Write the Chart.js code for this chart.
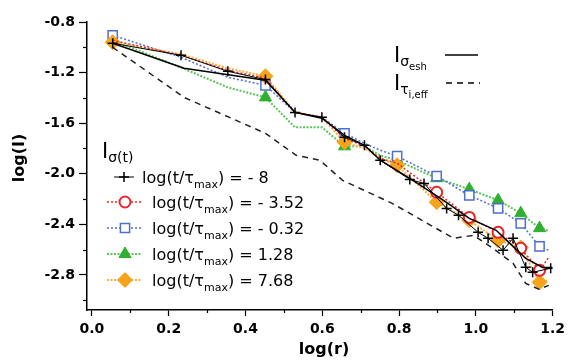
<!DOCTYPE html>
<html>
<head>
<meta charset="utf-8">
<script src="https://cdn.jsdelivr.net/npm/chart.js@4.4.1/dist/chart.umd.min.js"></script>
<style>
html, body { margin: 0; padding: 0; background: #fff; }
</style>
</head>
<body>
<canvas id="graph" width="570" height="364"></canvas>
<script>
// r grid shared by the four coloured series
var logR = [0.054, 0.232, 0.354, 0.452, 0.529, 0.599, 0.658, 0.710, 0.751, 0.795, 0.898, 0.983, 1.058, 1.117, 1.166, 1.190]
var redVals = [-0.945, -1.063, -1.182, -1.245, -1.515, -1.553, -1.719, -1.783, -1.878, -1.917, -2.146, -2.345, -2.463, -2.589, -2.763, -2.660]
var blueVals = [-0.905, -1.079, -1.237, -1.301, -1.515, -1.553, -1.680, -1.759, -1.814, -1.861, -2.019, -2.170, -2.273, -2.392, -2.574, -2.605]
var greenVals = [-0.945, -1.160, -1.317, -1.396, -1.633, -1.633, -1.783, -1.783, -1.855, -1.894, -2.035, -2.122, -2.209, -2.312, -2.430, -2.453]
var orangeVals = [-0.960, -1.055, -1.166, -1.229, -1.515, -1.553, -1.751, -1.799, -1.878, -1.933, -2.225, -2.368, -2.526, -2.582, -2.858, -2.840]
// which grid points carry a symbol (red ones are hidden under the others before r = 0.9)
var marked = [1, 0, 0, 1, 0, 0, 1, 0, 0, 1, 1, 1, 1, 1, 1, 0]
var redMarked = [0, 0, 0, 0, 0, 0, 0, 0, 0, 0, 1, 1, 1, 1, 1, 0]

// log(t/tau_max) = -8 series, own r values
var crossR = [0.054, 0.232, 0.354, 0.452, 0.529, 0.599, 0.658, 0.710, 0.751, 0.828, 0.865, 0.924, 0.955, 1.006, 1.032, 1.071, 1.097, 1.130, 1.148, 1.195]
var crossVals = [-0.968, -1.063, -1.190, -1.255, -1.515, -1.553, -1.712, -1.775, -1.893, -2.045, -2.076, -2.274, -2.328, -2.463, -2.510, -2.605, -2.510, -2.739, -2.779, -2.747]

// reference curves I_sigma,esh (solid) and I_tau,eff (dashed)
var eshR = [0.054, 0.240, 0.452, 0.529, 0.599, 0.658, 0.710, 0.751, 0.828, 0.916, 0.983, 1.053, 1.086, 1.130, 1.174, 1.200]
var eshVals = [-0.968, -1.166, -1.261, -1.514, -1.561, -1.696, -1.775, -1.893, -2.036, -2.211, -2.353, -2.447, -2.542, -2.669, -2.740, -2.740]
var effR = [0.054, 0.240, 0.452, 0.532, 0.594, 0.653, 0.782, 0.846, 0.942, 0.994, 1.045, 1.097, 1.130, 1.164, 1.190]
var effVals = [-1.000, -1.396, -1.680, -1.854, -1.894, -2.052, -2.234, -2.344, -2.510, -2.487, -2.590, -2.708, -2.866, -2.913, -2.882]

var legendLabels = ["- 8", "- 3.52", "- 0.32", "1.28", "7.68"]

var FONT = "DejaVu Sans"

function pairs(xs, ys) {
	var out = []
	for (var i = 0; i < xs.length; i++) out.push({x: xs[i], y: ys[i]})
	return out
}
function radii(r, mask) {
	return (mask || marked).map(function(m) { return m ? r : 0 })
}

var series = [
	{data: pairs(crossR, crossVals), order: 1, borderColor: "#000", borderWidth: 1, pointStyle: "cross",
		pointRadius: 5, pointBorderWidth: 1.5, pointBorderColor: "#000", pointBackgroundColor: "#000"},
	{data: pairs(logR, redVals), order: 1.5, borderColor: "#e8262b", borderWidth: 1.5, borderDash: [2, 2], pointStyle: "circle",
		pointRadius: radii(5.5, redMarked), pointBorderWidth: 2, pointBorderColor: "#e8262b", pointBackgroundColor: "#fff"},
	{data: pairs(logR, blueVals), order: 3, borderColor: "#4f6fd0", borderWidth: 1.5, borderDash: [2, 2], pointStyle: "rect",
		pointRadius: radii(6.5), pointBorderWidth: 1.5, pointBorderColor: "#4f6fd0", pointBackgroundColor: "#fff"},
	{data: pairs(logR, greenVals), order: 4, borderColor: "#5cc45c", borderWidth: 2, borderDash: [2, 1.5], pointStyle: "triangle",
		pointRadius: radii(7), pointBorderWidth: 1, pointBorderColor: "#2fb02f", pointBackgroundColor: "#2fb02f"},
	{data: pairs(logR, orangeVals), order: 2, borderColor: "#f7b040", borderWidth: 2, borderDash: [2, 1.5], pointStyle: "rectRot",
		pointRadius: radii(7.5), pointBorderWidth: 1, pointBorderColor: "#f6a41c", pointBackgroundColor: "#f6a41c"}
]

var datasets = [
	{data: pairs(eshR, eshVals), order: 0, borderColor: "#000", borderWidth: 1.5, pointRadius: 0},
	{data: pairs(effR, effVals), order: 0, borderColor: "#222", borderWidth: 1.5, borderDash: [6, 5], pointRadius: 0}
].concat(series)

// draws text runs with subscripts, left to right
function runs(ctx, x, y, parts, bold) {
	ctx.textAlign = "left"
	ctx.textBaseline = "alphabetic"
	for (var i = 0; i < parts.length; i++) {
		var p = parts[i]
		ctx.font = (bold ? "bold " : "") + p[1] + "px '" + FONT + "'"
		ctx.fillText(p[0], x, y + (p[2] || 0))
		x += ctx.measureText(p[0]).width
	}
}

var decorations = {
	id: "decorations",
	afterDraw: function(chart) {
		var ctx = chart.ctx
		var xs = chart.scales.x, ys = chart.scales.y
		var area = chart.chartArea
		ctx.save()
		ctx.strokeStyle = "#000"
		ctx.lineWidth = 1.2
		// minor ticks
		for (var v = -3.0; v < -0.85; v += 0.4) {
			var py = Math.round(ys.getPixelForValue(v)) + 0.5
			ctx.beginPath(); ctx.moveTo(area.left - 4, py); ctx.lineTo(area.left, py); ctx.stroke()
		}
		for (var u = 0.1; u < 1.2; u += 0.2) {
			var px = Math.round(xs.getPixelForValue(u)) + 0.5
			ctx.beginPath(); ctx.moveTo(px, area.bottom); ctx.lineTo(px, area.bottom + 3); ctx.stroke()
		}

		ctx.fillStyle = "#000"
		// axis titles
		ctx.font = "bold 16px '" + FONT + "'"
		ctx.textAlign = "center"
		ctx.textBaseline = "middle"
		ctx.fillText("log(r)", 324, 350)
		ctx.save()
		ctx.translate(20, 158)
		ctx.rotate(-Math.PI / 2)
		ctx.fillText("log(I)", 0, 0)
		ctx.restore()

		// reference curve legend, top right
		runs(ctx, 394, 62, [["I", 21], ["σ", 14, 4], ["esh", 10, 8]])
		runs(ctx, 394, 90, [["I", 21], ["τ", 14, 4], ["i,eff", 10, 8]])
		ctx.lineWidth = 1.5
		ctx.setLineDash([])
		ctx.beginPath(); ctx.moveTo(445, 55); ctx.lineTo(478, 55); ctx.stroke()
		ctx.setLineDash([6, 5])
		ctx.beginPath(); ctx.moveTo(446, 83); ctx.lineTo(480, 83); ctx.stroke()
		ctx.setLineDash([])

		// series legend, left
		runs(ctx, 102, 158, [["I", 21], ["σ(t)", 14, 4]])
		var rows = [177, 202, 228, 254, 280]
		for (var i = 0; i < series.length; i++) {
			var ds = series[i], y = rows[i]
			var x1 = i === 0 ? 114 : 107, x2 = i === 0 ? 134 : 141
			var mx = i === 0 ? 124 : 125
			ctx.strokeStyle = ds.borderColor
			ctx.lineWidth = ds.borderWidth
			ctx.setLineDash(ds.borderDash || [])
			ctx.beginPath(); ctx.moveTo(x1, y); ctx.lineTo(x2, y); ctx.stroke()
			ctx.setLineDash([])
			ctx.fillStyle = ds.pointBackgroundColor
			ctx.strokeStyle = ds.pointBorderColor
			ctx.lineWidth = ds.pointBorderWidth
			var r = Array.isArray(ds.pointRadius) ? Math.max.apply(null, ds.pointRadius) : ds.pointRadius
			Chart.helpers.drawPoint(ctx, {pointStyle: ds.pointStyle, radius: r, rotation: 0, borderWidth: ds.pointBorderWidth}, mx, y)
			ctx.fillStyle = "#000"
			runs(ctx, i === 0 ? 142 : 152, y + 6, [["log(t/τ", 16], ["max", 11, 5], [") = " + legendLabels[i], 16]])
		}
		ctx.restore()
	}
}

var axisFont = {family: FONT, size: 14, weight: "bold"}

new Chart(document.getElementById("graph"), {
	type: "line",
	data: {datasets: datasets},
	plugins: [decorations],
	options: {
		responsive: false,
		animation: false,
		layout: {padding: {left: 0, right: 13, top: 22, bottom: 0}},
		plugins: {legend: {display: false}, tooltip: {enabled: false}},
		elements: {line: {tension: 0, fill: false}},
		scales: {
			x: {
				type: "linear",
				min: -0.0129,
				max: 1.2,
				afterFit: function(s) { s.height = 54 },
				border: {display: true, color: "#000", width: 1.5},
				grid: {drawOnChartArea: false, tickLength: 6, color: "#000", tickWidth: 1.2},
				ticks: {stepSize: 0.2, includeBounds: false, color: "#000", font: axisFont, padding: 5,
					maxRotation: 0, autoSkip: false,
					callback: function(v) { return v.toFixed(1) }}
			},
			y: {
				type: "linear",
				min: -3.077,
				max: -0.8,
				afterFit: function(s) { s.width = 87 },
				border: {display: true, color: "#000", width: 1.5},
				grid: {drawOnChartArea: false, tickLength: 8, color: "#000", tickWidth: 1.2},
				ticks: {stepSize: 0.4, includeBounds: false, color: "#000", font: axisFont, padding: 4,
					autoSkip: false,
					callback: function(v) { return v.toFixed(1) }}
			}
		}
	}
})
</script>
</body>
</html>
